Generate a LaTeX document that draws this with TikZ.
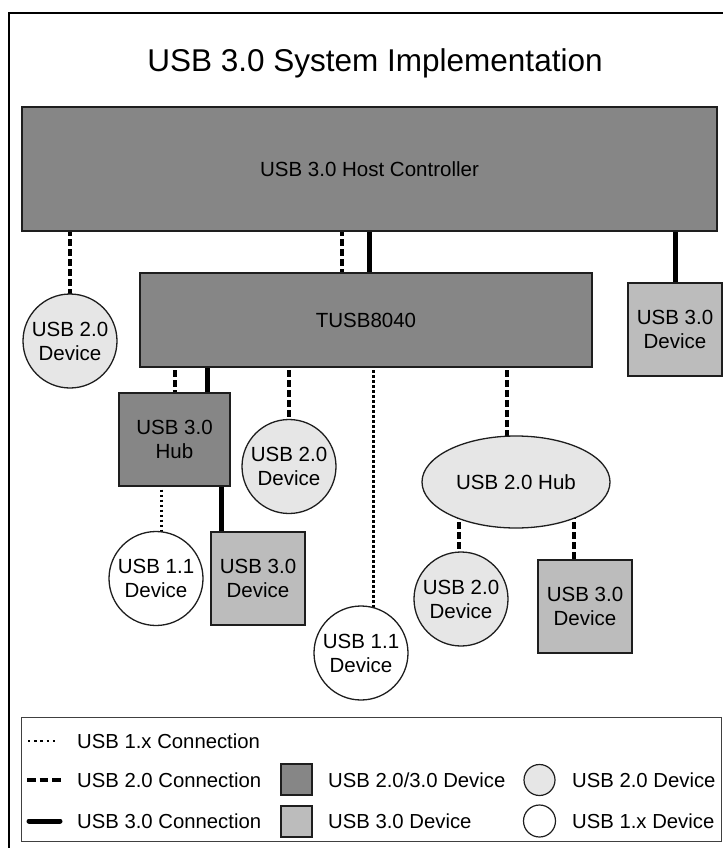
\documentclass[tikz,border=0pt]{standalone}
\usepackage{fontspec}
\setmainfont{Liberation Sans}
\usetikzlibrary{shapes.geometric,backgrounds}
\definecolor{darkfill}{HTML}{868686}
\definecolor{midfill}{HTML}{BCBCBC}
\definecolor{lightfill}{HTML}{E6E6E6}
\definecolor{edge}{HTML}{1E1E1E}
\begin{document}
\begin{tikzpicture}[x=1bp,y=-1bp,
  lbl/.style={font=\fontsize{20.5bp}{24bp}\selectfont, align=center, text=black},
  darkbox/.style={lbl, draw=edge, line width=1.3bp, fill=darkfill, rectangle, inner sep=0pt},
  devthree/.style={lbl, draw=edge, line width=1.3bp, fill=midfill, rectangle, inner sep=0pt, minimum width=94bp, minimum height=93bp},
  devtwo/.style={lbl, draw=edge, line width=1.3bp, fill=lightfill, circle, inner sep=0pt, minimum size=94bp},
  devone/.style={lbl, draw=edge, line width=1.3bp, fill=white, circle, inner sep=0pt, minimum size=94bp},
  conone/.style={line width=3bp, dash pattern=on 2.6bp off 2.4bp, black},
  contwo/.style={line width=3.2bp, dash pattern=on 6.5bp off 3.5bp, black},
  conthree/.style={line width=5bp, black},
  legtext/.style={font=\fontsize{20.3bp}{24bp}\selectfont, anchor=west, inner sep=0pt, text height=14.5bp, text depth=0pt}
]
\useasboundingbox (0,0) rectangle (723,848);
% outer frame
\draw[line width=1.4bp, black] (9,860) -- (9,13) -- (735,13);
% title
\node[font=\fontsize{31.5bp}{36bp}\selectfont, anchor=base, inner sep=0pt] (title) at (375,71) {USB 3.0 System Implementation};

% nodes
\node[darkbox, minimum width=695bp, minimum height=124bp] (host) at (369.5,169) {USB 3.0 Host Controller};
\node[darkbox, minimum width=452bp, minimum height=94bp] (tusb) at (366,320) {TUSB8040};
\node[devthree] (u3a) at (675,329.5) {USB 3.0\\Device};
\node[devtwo] (u2a) at (70,341) {USB 2.0\\Device};
\node[darkbox, minimum width=111bp, minimum height=93bp] (hub3) at (174.5,439.5) {USB 3.0\\Hub};
\node[devtwo] (u2b) at (289,466.5) {USB 2.0\\Device};
\node[devone] (u11a) at (156,578.5) {USB 1.1\\Device};
\node[devthree] (u3b) at (258,578.5) {USB 3.0\\Device};
\node[devone] (u11b) at (361,653) {USB 1.1\\Device};
\node[lbl, draw=edge, line width=1.3bp, fill=lightfill, ellipse, inner sep=0pt, minimum width=188bp, minimum height=92bp] (hub2) at (516,482) {USB 2.0 Hub};
\node[devtwo] (u2c) at (461,599) {USB 2.0\\Device};
\node[devthree] (u3c) at (585,606.5) {USB 3.0\\Device};

% connectors behind the nodes
\begin{pgfonlayer}{background}
\draw[contwo] (host.center -| u2a.center) -- (u2a.center);
\draw[contwo] (host.center -| 342,0) -- (tusb.center -| 342,0);
\draw[conthree] (host.center -| 369,0) -- (tusb.center -| 369,0);
\draw[conthree] (host.center -| u3a.center) -- (u3a.center);
\draw[contwo] (tusb.center -| 175,0) -- (hub3.center -| 175,0);
\draw[conthree] (tusb.center -| 207,0) -- (hub3.center -| 207,0);
\draw[contwo] (tusb.center -| u2b.center) -- (u2b.center);
\draw[conone] (tusb.center -| 373,0) -- (u11b.center -| 373,0);
\draw[contwo] (tusb.center -| 507,0) -- (hub2.center -| 507,0);
\draw[conone] (hub3.center -| 161,0) -- (u11a.center -| 161,0);
\draw[conthree] (hub3.center -| 221,0) -- (u3b.center -| 221,0);
\draw[contwo] (hub2.center -| 459,0) -- (u2c.center -| 459,0);
\draw[contwo] (hub2.center -| 574,0) -- (u3c.center -| 574,0);
\end{pgfonlayer}

% legend
\node[draw=edge!85, line width=1bp, rectangle, inner sep=0pt, minimum width=699bp, minimum height=124bp] (legend) at (371.5,779) {};
\coordinate (l1a) at (28,741); \coordinate (l1b) at (56,741);
\coordinate (l2a) at (27,780); \coordinate (l2b) at (62,780);
\coordinate (l3a) at (29,821); \coordinate (l3b) at (60,821);
\draw[line width=2.8bp, dash pattern=on 2.4bp off 3.8bp] (l1a) -- (l1b);
\draw[line width=3.2bp, dash pattern=on 8.5bp off 4bp] (l2a) -- (l2b);
\draw[line width=5bp, line cap=round] (l3a) -- (l3b);
\node[legtext] (t1) at (77,741) {USB 1.x Connection};
\node[legtext] (t2) at (77,780) {USB 2.0 Connection};
\node[legtext] (t3) at (77,821) {USB 3.0 Connection};
\node[draw=edge, line width=1.2bp, fill=darkfill, minimum width=31bp, minimum height=31bp, inner sep=0pt] (sq1) at (296.5,779.5) {};
\node[draw=edge, line width=1.2bp, fill=midfill, minimum width=31bp, minimum height=31bp, inner sep=0pt] (sq2) at (296.5,821.5) {};
\node[legtext] (t4) at (328,780) {USB 2.0/3.0 Device};
\node[legtext] (t5) at (328,821) {USB 3.0 Device};
\node[draw=edge, line width=1.2bp, fill=lightfill, circle, minimum size=31bp, inner sep=0pt] (c1) at (539.5,780) {};
\node[draw=edge, line width=1.2bp, fill=white, circle, minimum size=32bp, inner sep=0pt] (c2) at (539.5,821) {};
\node[legtext] (t6) at (572,780) {USB 2.0 Device};
\node[legtext] (t7) at (572,821) {USB 1.x Device};
\end{tikzpicture}
\end{document}
